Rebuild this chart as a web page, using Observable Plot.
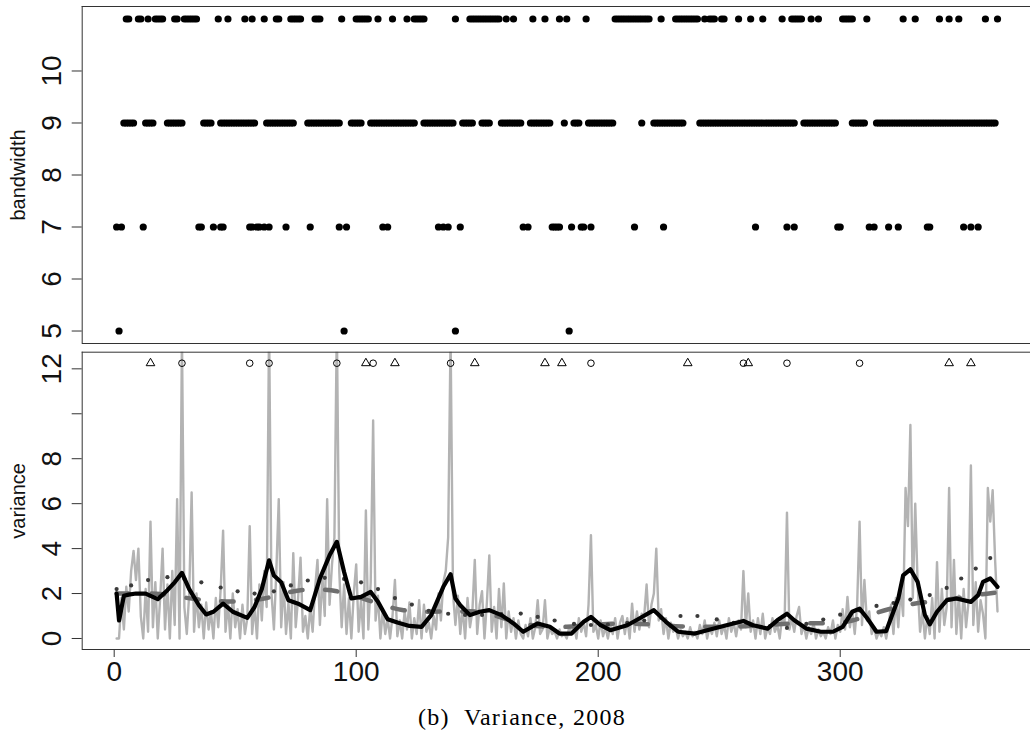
<!DOCTYPE html>
<html><head><meta charset="utf-8">
<script src="https://cdn.jsdelivr.net/npm/d3@7"></script>
<script src="https://cdn.jsdelivr.net/npm/@observablehq/plot@0.6"></script>
<style>
html,body{margin:0;padding:0;background:#fff;}
#wrap{width:1030px;}
#wrap svg{display:block;}
#cap{width:1016px;padding-left:14px;text-align:center;font-family:"Liberation Serif","DejaVu Serif",serif;font-size:24px;letter-spacing:1.3px;margin-top:5px;color:#000;white-space:pre;}
</style></head><body><div id="wrap"></div><div id="cap">(b)  Variance, 2008</div>
<script>
// ---- top panel: chosen bandwidth per day (x = day of year) ----
const bw11Days = [5,6,10,11,14,17,18,19,20,25,26,29,30,31,32,33,34,43,47,54,57,62,67,68,73,74,75,76,77,83,84,85,94,100,101,102,103,104,105,109,115,121,124,125,126,127,128,141,147,148,149,150,151,152,153,154,155,156,157,158,159,162,165,173,178,184,187,195,207,208,209,210,211,212,213,214,215,216,217,218,219,220,221,226,232,233,234,235,236,237,238,239,240,241,244,246,247,248,251,252,258,263,268,276,280,281,282,283,284,288,291,301,302,303,304,305,311,326,331,341,345,349,360,365];
const bw9Days = [4,5,6,7,8,13,14,15,16,22,23,24,25,26,27,28,37,38,39,40,44,45,46,47,48,49,50,51,52,53,54,55,56,57,58,63,64,65,66,67,68,69,70,71,72,73,74,80,81,82,83,84,85,86,87,88,89,90,91,92,93,98,99,100,101,102,106,107,108,109,110,111,112,113,114,115,116,117,118,119,120,121,122,123,124,128,129,130,131,132,133,134,135,136,137,138,139,140,144,145,146,147,148,152,153,154,155,160,161,162,163,164,165,166,167,168,172,173,174,175,176,177,178,179,180,186,190,191,192,196,197,198,199,200,201,202,203,204,205,206,218,223,224,225,226,227,228,229,230,231,232,233,234,235,242,243,244,245,246,247,248,249,250,251,252,253,254,255,256,257,258,259,260,261,262,263,264,265,266,267,268,269,270,271,272,273,274,275,276,277,278,279,280,281,285,286,287,288,289,290,291,292,293,294,295,296,297,298,305,306,307,308,309,310,315,316,317,318,319,320,321,322,323,324,325,326,327,328,329,330,331,332,333,334,335,336,337,338,339,340,341,342,343,344,345,346,347,348,349,350,351,352,353,354,355,356,357,358,359,360,361,362,363,364];
const bw7Days = [1,3,12,35,36,41,44,45,56,57,59,60,62,64,71,81,93,96,111,113,134,136,138,143,169,171,181,182,183,184,189,193,194,197,215,227,265,278,281,299,300,312,314,320,324,336,337,351,354,357];
const bw5Days = [2,95,141,188];
const bwTicks = [5,6,7,8,9,10];

// ---- bottom panel: daily variance (day 1..365) ----
const dailyVariance = [
0,0,1.8,0.4,2.3,1.2,3,3.9,2.6,4,
1,0,2.2,0.3,5.2,0.5,2.5,0,1.8,4,
0.4,2.4,0,3,0.6,6.2,0,13.5,1.4,0.2,
2,6.5,0.3,2,0.5,1.5,0,1.6,0.4,1.2,
0,1.8,0.5,2.2,4.8,0.3,1.6,0,2,0.5,
1.3,0,1.5,0.2,0.9,5,0.2,1.5,0,2.4,
0.8,3,1.4,14,2,0.4,3,6.2,0.5,2.5,
0.2,1.6,0,3.8,0.5,1.8,3.6,0.3,1,0,
1.4,0.3,2.2,3.5,0.6,2.8,1,6.2,1.5,3.3,
4.5,14,3,0.5,2.4,0.2,1.8,0,2,3.3,
0.3,1.7,0,5.7,0.4,2.5,9.7,0.8,1.9,0,
1.3,0.2,0.9,0,1,2.6,0.1,0.8,0,1.2,
0.4,1.6,0,0.9,0.2,1.7,0,1.5,0.3,0.7,
0,1,0.4,2,0.8,2.5,3,4.5,13.5,2,
0.6,1.9,0.2,1.4,0,1.8,0.5,1.2,3.5,0.2,
1.5,2.1,0,1.6,3.7,0.3,1.4,0,2.2,0.5,
2.45,0,1.2,0.3,0.9,0,0.8,0.2,0,0.6,
0.1,0.9,0,0.5,1.7,0.2,0.4,1.7,0,0.5,
0.2,0.3,0,0.4,0.1,0.2,0,0.5,0.2,0.6,
0,0.9,0.3,0.7,0.1,1.5,4.6,0.3,0.6,0,
0.8,0.1,0.5,0,0.6,0.2,0.9,0,0.7,1,
0.2,0.9,0,1.55,0.3,1.2,0.4,1.1,1,2.4,
0.5,1.5,2,4,0.8,1.3,0.2,0.9,0,0.7,
0.3,0.5,0,0.4,0.1,0.3,0,0.5,0.1,0.3,
0,0.6,0.2,0.8,0,0.5,0.2,0.7,0.1,0.8,
0.2,0.6,0,0.9,0.3,0.7,0.1,0.8,0.4,3,
0.5,2,0.3,0.8,0,0.9,0.2,1.1,0,0.5,
0.2,0.9,0.3,0.6,0,1,0.7,5.6,0.4,0.9,
0.3,1,1.4,0.2,0.6,0,0.5,0.2,0.7,0,
0.4,0.1,0.3,0,0.5,0.2,0.8,0,0.6,0.3,
1.3,0.4,1.85,0.5,1.2,0.2,1.5,5.2,0.6,2.6,
0.8,1.2,0.2,0.5,0,0.3,0.1,0.5,0,0.6,
1.5,0.2,1.8,0.5,2.2,1,6.7,5,9.5,1.8,
6,2.4,0.3,1.2,0,1,0.2,1.8,0,3.4,
0.3,2.2,0.6,1.4,6.7,0.5,3.5,0.2,1.9,0,
2.2,0.5,1.6,7.7,0.6,2.5,0.3,1.7,1.1,0,
6.7,5.2,6.6,3.5,1.2];

// adaptive-bandwidth smooth (thick black), [day, value]
const smoothAdaptive = [[1,2.0],[2,0.8],[4,1.9],[6,1.95],[9,2.0],[13,2.0],[15,1.9],[18,1.75],[22,2.15],[25,2.5],[28,2.92],[31,2.2],[35,1.48],[38,1.07],[41,1.19],[45,1.55],[49,1.19],[55,0.92],[58,1.4],[61,2.2],[64,3.48],[66,2.8],[69,2.5],[72,1.7],[76,1.55],[81,1.26],[85,2.67],[89,3.7],[92,4.3],[95,2.96],[98,1.78],[102,1.85],[106,2.07],[109,1.63],[113,0.86],[117,0.71],[122,0.56],[127,0.52],[131,1.04],[136,2.3],[139,2.86],[141,1.78],[143,1.48],[147,1.04],[151,1.19],[155,1.26],[160,1.04],[165,0.67],[169,0.3],[175,0.67],[180,0.52],[184,0.22],[189,0.22],[194,0.74],[197,0.96],[201,0.59],[205,0.37],[212,0.59],[217,0.89],[223,1.26],[228,0.74],[233,0.3],[240,0.22],[247,0.42],[253,0.59],[260,0.78],[264,0.59],[270,0.44],[274,0.81],[278,1.1],[281,0.81],[286,0.44],[292,0.3],[297,0.3],[301,0.52],[305,1.19],[308,1.33],[311,0.92],[315,0.3],[319,0.33],[324,1.78],[326,2.81],[329,3.08],[332,2.52],[335,1.04],[337,0.63],[340,1.19],[344,1.7],[348,1.78],[354,1.63],[357,1.93],[359,2.52],[362,2.67],[365,2.3]];
// wide fixed-bandwidth smooth (gray dashed)
const smoothWide = [[1,2.0],[5,2.0],[12,2.0],[19,1.98],[27,1.85],[34,1.75],[41,1.68],[48,1.65],[55,1.68],[63,1.8],[70,2.0],[77,2.15],[85,2.18],[92,2.1],[99,1.9],[105,1.7],[112,1.45],[119,1.27],[126,1.2],[135,1.2],[142,1.2],[149,1.2],[156,1.05],[164,0.8],[171,0.62],[179,0.52],[187,0.52],[194,0.57],[202,0.63],[209,0.67],[217,0.65],[224,0.62],[232,0.55],[239,0.52],[246,0.52],[253,0.52],[261,0.55],[268,0.6],[276,0.64],[283,0.67],[291,0.68],[298,0.68],[305,0.8],[312,1.04],[320,1.3],[327,1.48],[334,1.6],[342,1.7],[349,1.8],[356,1.93],[365,2.05]];
// dotted series (dark dots)
const dottedSeries = [[1,2.2],[7,2.36],[14,2.6],[22,2.73],[29,2.65],[36,2.5],[44,2.27],[51,2.1],[58,2.0],[66,2.1],[73,2.36],[80,2.58],[87,2.7],[95,2.65],[102,2.5],[109,2.2],[116,1.8],[123,1.51],[130,1.23],[138,1.1],[145,1.05],[152,1.05],[160,1.08],[168,1.11],[175,0.96],[182,0.8],[190,0.65],[197,0.6],[204,0.62],[212,0.7],[219,0.8],[226,0.92],[234,1.0],[241,1.0],[249,0.85],[256,0.7],[263,0.6],[271,0.55],[278,0.47],[286,0.65],[293,0.84],[300,1.06],[308,1.25],[315,1.45],[322,1.58],[329,1.73],[337,1.93],[344,2.25],[350,2.67],[356,3.11],[362,3.58]];
// event markers along the top of the variance panel
const triangleDays = [15,104,116,149,178,185,237,262,345,354];
const circleDays = [28,56,64,92,107,139,197,260,278,308];
const markerLevel = 12.25;
const varTicks = [0,2,4,6,8,10,12];
const varTickLabels = [0,2,4,6,8,12];
const dayTicks = [0,100,200,300];

const W = 1030, ML = 81.7;
const xDomain = [-13.22, 378.63];
const sans = '"Liberation Sans", Arial, Helvetica, sans-serif';

const bwData = [
  ...bw11Days.map(d => ({day: d, bw: 11})),
  ...bw9Days.map(d => ({day: d, bw: 9})),
  ...bw7Days.map(d => ({day: d, bw: 7})),
  ...bw5Days.map(d => ({day: d, bw: 5}))
];
const topY = [4.76, 11.24];
const topPlot = Plot.plot({
  width: W, height: 347, marginTop: 6, marginBottom: 4, marginLeft: ML, marginRight: 0,
  style: {fontFamily: sans, color: "#000", background: "#fff", overflow: "visible"},
  x: {domain: xDomain, axis: null},
  y: {domain: topY, axis: null},
  marks: [
    Plot.ruleY(topY, {stroke: "#333", strokeWidth: 1}),
    Plot.ruleX([xDomain[0]], {stroke: "#333", strokeWidth: 1}),
    Plot.axisY({ticks: bwTicks, tickSize: 10, tickFormat: () => "", label: null, stroke: "#333"}),
    Plot.text(bwTicks, {y: d => d, text: d => String(d), frameAnchor: "left", dx: -21.5, rotate: -90, textAnchor: "middle", lineAnchor: "bottom", fontSize: 28, fill: "#111"}),
    Plot.text(["bandwidth"], {text: d => d, frameAnchor: "left", dx: -64, rotate: -90, textAnchor: "middle", lineAnchor: "middle", fontSize: 20, fill: "#111"}),
    Plot.dot(bwData, {x: "day", y: "bw", r: 3.6, fill: "#000", stroke: "none"})
  ]
});

const botY = [-0.49, 12.74];
const botPlot = Plot.plot({
  width: W, height: 352, marginTop: 4.7, marginBottom: 50, marginLeft: ML, marginRight: 0,
  style: {fontFamily: sans, color: "#000", background: "#fff", overflow: "visible"},
  x: {domain: xDomain, axis: null},
  y: {domain: botY, axis: null},
  marks: [
    Plot.line(dailyVariance, {x: (d, i) => i + 1, y: d => d, stroke: "#b3b3b3", strokeWidth: 2.4, strokeLinejoin: "round", clip: true}),
    Plot.line(smoothWide, {x: d => d[0], y: d => d[1], stroke: "#6f6f6f", strokeWidth: 4.5, strokeDasharray: "12.5,22.5", strokeLinecap: "round", curve: "catmull-rom"}),
    Plot.dot(dottedSeries, {x: d => d[0], y: d => d[1], r: 2.1, fill: "#3a3a3a", stroke: "none"}),
    Plot.line(smoothAdaptive, {x: d => d[0], y: d => d[1], stroke: "#000", strokeWidth: 4.2, strokeLinejoin: "round", strokeLinecap: "round"}),
    Plot.dot(triangleDays, {x: d => d, y: () => markerLevel, symbol: "triangle", r: 3.2, stroke: "#000", fill: "none", strokeWidth: 1}),
    Plot.dot(circleDays, {x: d => d, y: () => markerLevel, r: 3.3, stroke: "#000", fill: "none", strokeWidth: 1}),
    Plot.ruleY(botY, {stroke: "#333", strokeWidth: 1}),
    Plot.ruleX([xDomain[0]], {stroke: "#333", strokeWidth: 1}),
    Plot.axisY({ticks: varTicks, tickSize: 10, tickFormat: () => "", label: null, stroke: "#333"}),
    Plot.text(varTickLabels, {y: d => d, text: d => String(d), frameAnchor: "left", dx: -21.5, rotate: -90, textAnchor: "middle", lineAnchor: "bottom", fontSize: 28, fill: "#111"}),
    Plot.text(["variance"], {text: d => d, frameAnchor: "left", dx: -64, rotate: -90, textAnchor: "middle", lineAnchor: "middle", fontSize: 20, fill: "#111"}),
    Plot.axisX({ticks: dayTicks, tickSize: 8, tickPadding: 4, fontSize: 28, label: null, stroke: "#333", fill: "#111"})
  ]
});

document.getElementById("wrap").append(topPlot, botPlot);
</script></body></html>
